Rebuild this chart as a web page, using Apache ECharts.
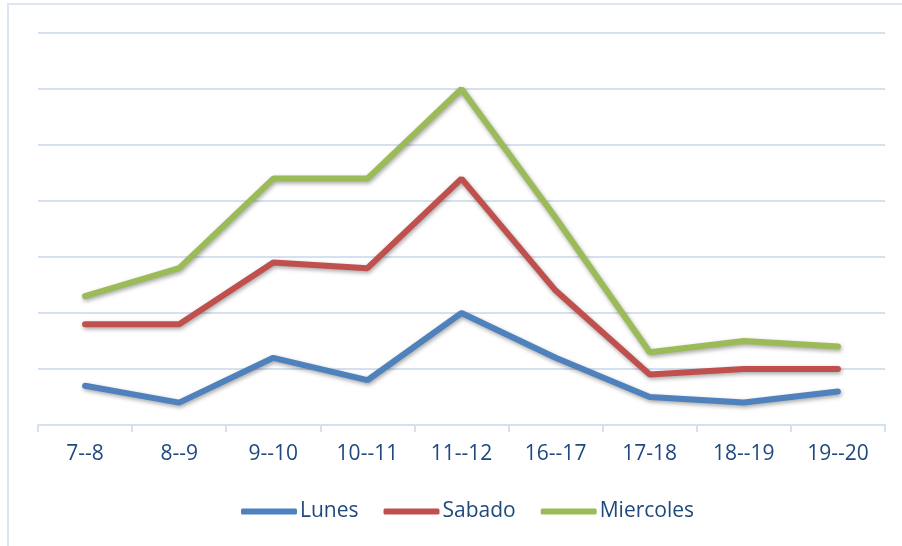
<!DOCTYPE html>
<html>
<head>
<meta charset="utf-8">
<script src="https://cdn.jsdelivr.net/npm/echarts@6/dist/echarts.min.js"></script>
<style>
  html, body { margin: 0; padding: 0; background: #fff; }
  #main { width: 902px; height: 546px; }
</style>
</head>
<body>
<div id="main"></div>
<script>
// franjas horarias
var horas = ['7--8', '8--9', '9--10', '10--11', '11--12', '16--17', '17-18', '18--19', '19--20'];

// valores (1 = una linea de la rejilla)
var lunes = [0.7, 0.4, 1.2, 0.8, 2.0, 1.2, 0.5, 0.4, 0.6];
var sabado = [1.8, 1.8, 2.9, 2.8, 4.4, 2.4, 0.9, 1.0, 1.0];
var miercoles = [2.3, 2.8, 4.4, 4.4, 6.0, 3.7, 1.3, 1.5, 1.4];

var nombres = ['Lunes', 'Sabado', 'Miercoles'];
var colores = ['#4F81BD', '#C0504D', '#9BBB59'];

function serie(nombre, datos, color) {
  return {
    name: nombre,
    type: 'line',
    data: datos,
    showSymbol: false,
    symbol: 'none',
    lineStyle: {
      width: 6,
      color: color,
      cap: 'round',
      shadowColor: 'rgba(0,0,0,0.35)',
      shadowBlur: 4,
      shadowOffsetX: 1,
      shadowOffsetY: 2
    },
    itemStyle: { color: color }
  };
}

var chart = echarts.init(document.getElementById('main'));
var option = {
  backgroundColor: '#fff',
  animation: false,
  textStyle: { fontFamily: 'Open Sans' },
  graphic: [{
    type: 'rect',
    shape: { x: 8, y: 4, width: 1000, height: 1000 },
    style: { fill: 'none', stroke: '#DCE6F2', lineWidth: 2 }
  }],
  grid: { left: 38, right: 17, top: 33, bottom: 121 },
  legend: {
    data: nombres,
    bottom: 19,
    left: 236,
    icon: 'roundRect',
    itemWidth: 56,
    itemHeight: 6,
    itemGap: 25,
    textStyle: { color: '#1F497D', fontSize: 21, fontFamily: 'Open Sans', padding: [0, 0, 0, -2] }
  },
  xAxis: {
    type: 'category',
    data: horas,
    boundaryGap: true,
    axisLine: { lineStyle: { color: '#D6E1F0', width: 2 } },
    axisTick: { show: true, length: 7, lineStyle: { color: '#D6E1F0', width: 2 } },
    axisLabel: { color: '#1F497D', fontSize: 21, margin: 19, fontFamily: 'Open Sans' }
  },
  yAxis: {
    type: 'value',
    min: 0,
    max: 7,
    interval: 1,
    axisLabel: { show: false },
    axisLine: { show: false },
    axisTick: { show: false },
    splitLine: { lineStyle: { color: '#D6E1F0', width: 2 } }
  },
  series: [
    serie(nombres[0], lunes, colores[0]),
    serie(nombres[1], sabado, colores[1]),
    serie(nombres[2], miercoles, colores[2])
  ]
};
chart.setOption(option);
</script>
</body>
</html>
